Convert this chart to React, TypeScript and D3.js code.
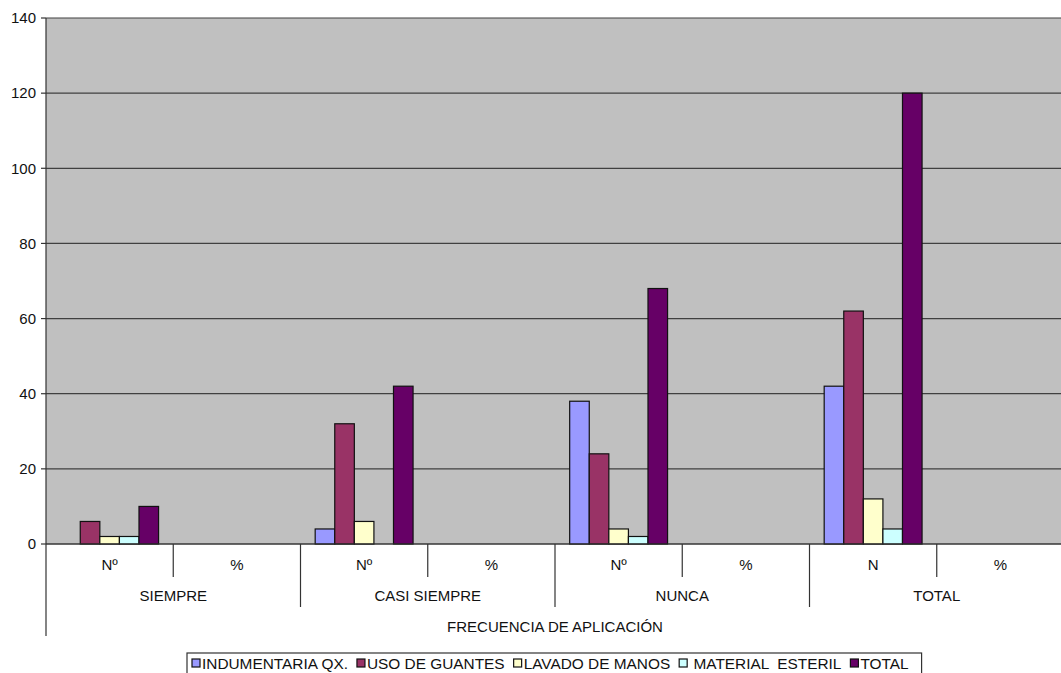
import React, { useEffect, useRef } from "react";
import * as d3 from "d3";

const subLabels = ["Nº", "%", "Nº", "%", "Nº", "%", "N", "%"];
const groupLabels = ["SIEMPRE", "CASI SIEMPRE", "NUNCA", "TOTAL"];
const axisTitle = "FRECUENCIA DE APLICACIÓN";
const seriesNames = ["INDUMENTARIA QX.", "USO DE GUANTES", "LAVADO DE MANOS", " MATERIAL  ESTERIL", "TOTAL"];
const seriesColors = ["#9999FF", "#993366", "#FFFFCC", "#CCFFFF", "#660066"];
const indumentaria = [0, null, 4, null, 38, null, 42, null];
const usoGuantes = [6, null, 32, null, 24, null, 62, null];
const lavadoManos = [2, null, 6, null, 4, null, 12, null];
const materialEsteril = [2, null, 0, null, 2, null, 4, null];
const total = [10, null, 42, null, 68, null, 120, null];
const yTicks = [0, 20, 40, 60, 80, 100, 120, 140];

const W = 1061, H = 673;
const FONT = "'Liberation Sans', Arial, sans-serif";

export default function App() {
  const ref = useRef<SVGSVGElement>(null);
  useEffect(() => {
    const svg = d3.select(ref.current);
    svg.selectAll("*").remove();
    const left = 46, right = 1064, top = 18, bottom = 544;
    const series = [indumentaria, usoGuantes, lavadoManos, materialEsteril, total];
    const y = d3.scaleLinear().domain([0, 140]).range([bottom, top]);
    const idx = subLabels.map((_, i) => String(i));
    const x0 = d3.scaleBand().domain(idx).range([left, right]).padding(0);
    const x1 = d3.scaleBand().domain(seriesNames).range([0, x0.bandwidth()]).paddingInner(0).paddingOuter(0.75);

    svg.append("rect").attr("x", left).attr("y", top).attr("width", right - left).attr("height", bottom - top).attr("fill", "#C0C0C0");

    svg.append("g").selectAll("line").data(yTicks).join("line")
      .attr("x1", left).attr("x2", right)
      .attr("y1", d => y(d)).attr("y2", d => y(d))
      .attr("stroke", "#404040").attr("stroke-width", 1.2);

    const g = svg.append("g");
    series.forEach((vals, si) => {
      g.selectAll(null).data(vals.map((v, i) => ({ v, i })).filter(d => d.v != null && (d.v as number) > 0))
        .join("rect")
        .attr("x", d => (x0(String(d.i)) as number) + (x1(seriesNames[si]) as number))
        .attr("width", x1.bandwidth())
        .attr("y", d => y(d.v as number))
        .attr("height", d => bottom - y(d.v as number))
        .attr("fill", seriesColors[si])
        .attr("stroke", "#111").attr("stroke-width", 1.2);
    });

    svg.append("line").attr("x1", left).attr("x2", left).attr("y1", top).attr("y2", 636).attr("stroke", "#333").attr("stroke-width", 1.2);
    svg.append("g").selectAll("line").data(yTicks).join("line")
      .attr("x1", left - 5).attr("x2", left).attr("y1", d => y(d)).attr("y2", d => y(d))
      .attr("stroke", "#333").attr("stroke-width", 1.2);
    svg.append("g").selectAll("text").data(yTicks).join("text")
      .attr("x", left - 10).attr("y", d => y(d)).attr("dy", "0.35em")
      .attr("text-anchor", "end").attr("font-family", FONT).attr("font-size", 15).attr("fill", "#111")
      .text(d => d);

    svg.append("line").attr("x1", left).attr("x2", right).attr("y1", bottom).attr("y2", bottom).attr("stroke", "#333").attr("stroke-width", 1.2);
    idx.forEach((k, i) => {
      if (i === 0) return;
      const xx = x0(k) as number;
      const isGroup = i % 2 === 0;
      svg.append("line").attr("x1", xx).attr("x2", xx).attr("y1", bottom).attr("y2", isGroup ? 607 : 577)
        .attr("stroke", "#333").attr("stroke-width", 1.2);
    });
    svg.append("g").selectAll("text").data(subLabels).join("text")
      .attr("x", (_, i) => (x0(String(i)) as number) + x0.bandwidth() / 2)
      .attr("y", 570).attr("text-anchor", "middle")
      .attr("font-family", FONT).attr("font-size", 15).attr("fill", "#111")
      .text(d => d);
    svg.append("g").selectAll("text").data(groupLabels).join("text")
      .attr("x", (_, i) => (x0(String(i * 2)) as number) + x0.bandwidth())
      .attr("y", 601).attr("text-anchor", "middle")
      .attr("font-family", FONT).attr("font-size", 15).attr("fill", "#111")
      .text(d => d);
    svg.append("text").attr("x", 555).attr("y", 632).attr("text-anchor", "middle")
      .attr("font-family", FONT).attr("font-size", 15).attr("fill", "#111").text(axisTitle);

    const lg = svg.append("g");
    const box = lg.append("rect").attr("y", 653).attr("height", 24).attr("fill", "white").attr("stroke", "#333").attr("stroke-width", 1.2);
    let cx = 192;
    seriesNames.forEach((name, i) => {
      lg.append("rect").attr("x", cx).attr("y", 659).attr("width", 8).attr("height", 8)
        .attr("fill", seriesColors[i]).attr("stroke", "#111").attr("stroke-width", 1.2);
      const t = lg.append("text").attr("x", cx + 10).attr("y", 668.5)
        .attr("font-family", FONT).attr("font-size", 15.4).attr("fill", "#111")
        .attr("xml:space", "preserve").style("white-space", "pre").text(name);
      const w = (t.node() as SVGTextElement).getComputedTextLength();
      cx += 10 + w + 9;
    });
    box.attr("x", 187).attr("width", cx - 187 + 4);
  }, []);
  return (
    <svg ref={ref} width={W} height={H} style={{ position: "absolute", left: 0, top: 0, background: "white" }} />
  );
}
